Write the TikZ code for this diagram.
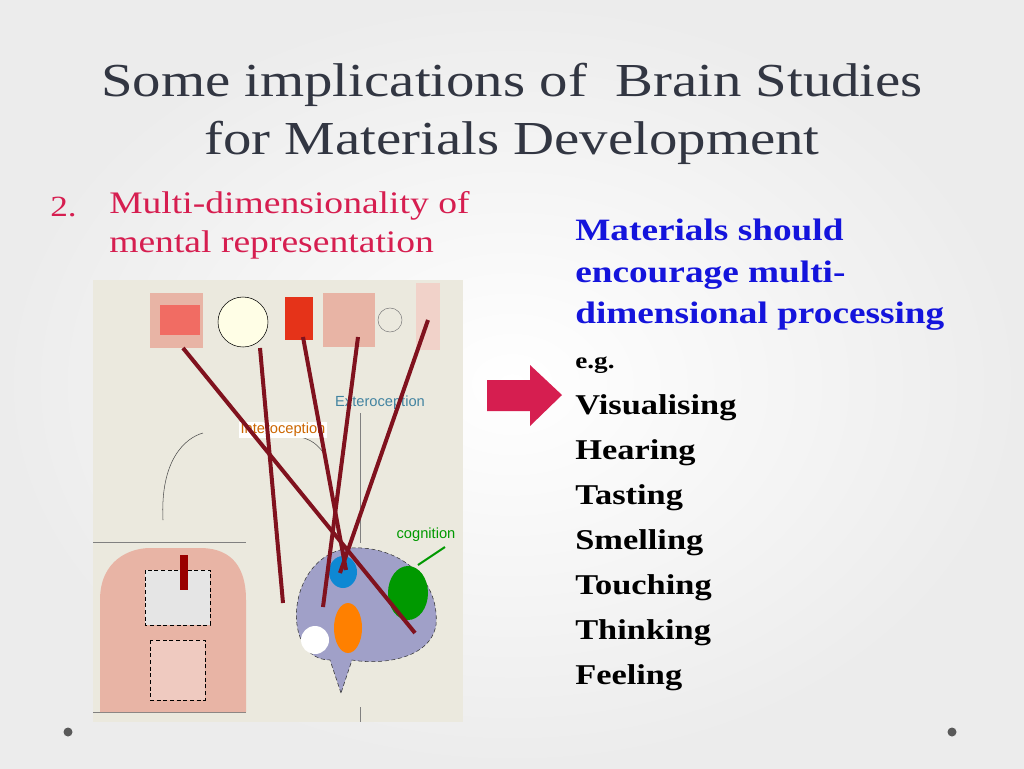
\documentclass[tikz,border=0pt]{standalone}
\usepackage{fontspec}
\setmainfont[FakeStretch=1.2]{Liberation Serif}
\newfontfamily\lsans{Liberation Sans}
\begin{document}
\begin{tikzpicture}[x=0.75pt,y=-0.75pt,
  nerve/.style={draw={rgb,255:red,128;green,18;blue,30},line width=3pt},
  listitem/.style={anchor=west,font=\fontsize{21.5}{25}\selectfont\bfseries,text=black,inner sep=0pt},
  lbl/.style={font=\lsans\fontsize{11}{13}\selectfont,inner sep=1pt}]
\definecolor{bg}{RGB}{236,236,236}
\definecolor{titlec}{RGB}{50,54,66}
\definecolor{crimson}{RGB}{214,30,80}
\definecolor{blueb}{RGB}{20,20,220}
\definecolor{imgbg}{RGB}{235,233,222}
\definecolor{skin}{RGB}{232,180,165}
\definecolor{brain}{RGB}{160,160,200}
\useasboundingbox (0,0) rectangle (1024,768);
\shade[inner color=white,outer color=bg] (0,0) rectangle (1024,768);
\fill[gray!70!black] (68,732) circle (4.5);
\fill[gray!70!black] (952,732) circle (4.5);
% title
\node[font=\fontsize{35.5}{44}\selectfont,text=titlec,align=center] (title) at (512,114) {Some implications of\ \ Brain Studies\\for Materials Development};
\node[anchor=west,font=\fontsize{22}{25}\selectfont,text=crimson,inner sep=0pt] (num) at (50,207) {2.};
\node[anchor=north west,font=\fontsize{23.5}{29}\selectfont,text=crimson,align=left,inner sep=0pt] (sub) at (109,191) {Multi-dimensionality of\\mental representation};
\node[anchor=north west,font=\fontsize{23.3}{31}\selectfont\bfseries,text=blueb,align=left,inner sep=0pt] (blue) at (575,219) {Materials should\\encourage multi-\\dimensional processing};
\node[listitem,font=\fontsize{17}{20}\selectfont\bfseries] (eg) at (575,365) {e.g.};
\foreach \t [count=\i] in {Visualising,Hearing,Tasting,Smelling,Touching,Thinking,Feeling}
  \node[listitem] (it\i) at (575,363+45*\i) {\t};
% arrow
\fill[crimson] (487,380) -- (530,380) -- (530,365) -- (562,395) -- (530,426) -- (530,411) -- (487,411) -- cycle;
% image
\fill[imgbg] (93,280) rectangle (463,722);
% torso
\draw[gray] (93,542) -- (246,542); \draw[gray] (93,712) -- (246,712);
\fill[skin] (100,712) -- (100,600) .. controls (100,560) and (130,548) .. (150,548) -- (200,548) .. controls (225,548) and (246,560) .. (246,600) -- (246,712) -- cycle;
\fill[gray!20,draw=black,densely dashed] (145,570) rectangle (210,625);
\fill[skin!70!white,draw=black,densely dashed] (150,640) rectangle (205,700);
\fill[red!60!black] (180,555) rectangle (188,590);
% curve
\draw[gray!60!black] (163,520) .. controls (160,460) and (185,438) .. (203,433);
\draw[gray!60!black] (300,437) .. controls (315,440) and (322,450) .. (326,457);
\draw[gray] (360,413) -- (360,543); \draw[gray] (360,707) -- (360,722);
% sense organs
\fill[skin] (150,293) rectangle (203,348);
\fill[red!40!skin] (160,305) rectangle (200,335);
\draw[fill=white!90!yellow] (243,322) circle (25);
\fill[red!60!brown] (285,297) rectangle (313,340);
\fill[skin] (323,293) rectangle (375,347);
\draw[gray] (390,320) circle (12);
\fill[skin!60!white] (416,283) rectangle (440,350);
% brain
\fill[brain,draw=gray!40!black,densely dashed] (341,693) -- (330,660) .. controls (280,660) and (285,555) .. (350,548) .. controls (400,545) and (440,580) .. (436,625) .. controls (430,660) and (380,665) .. (352,660) -- cycle;
\fill[white] (315,640) circle (14);
\fill[cyan!70!blue] (343,572) ellipse (14 and 16);
\fill[green!60!black] (408,593) ellipse (20 and 27);
\fill[orange] (348,628) ellipse (14 and 25);
\draw[green!60!black,line width=1.5pt] (445,547) -- (418,565);
% labels
\node[lbl,fill=white,text=orange!80!black] (intero) at (283,430) {Interoception};
\node[lbl,text=cyan!60!black] (extero) at (380,403) {Exteroception};
\node[lbl,text=green!60!black] (cog) at (426,535) {cognition};
% nerves
\coordinate (n1) at (183,348); \coordinate (b1) at (415,633);
\coordinate (n2) at (260,348); \coordinate (b2) at (283,603);
\coordinate (n3) at (303,337); \coordinate (b3) at (346,570);
\coordinate (n4) at (358,337); \coordinate (b4) at (323,607);
\coordinate (n5) at (428,320); \coordinate (b5) at (340,573);
\foreach \i in {1,...,5} \draw[nerve] (n\i) -- (b\i);
\end{tikzpicture}
\end{document}
